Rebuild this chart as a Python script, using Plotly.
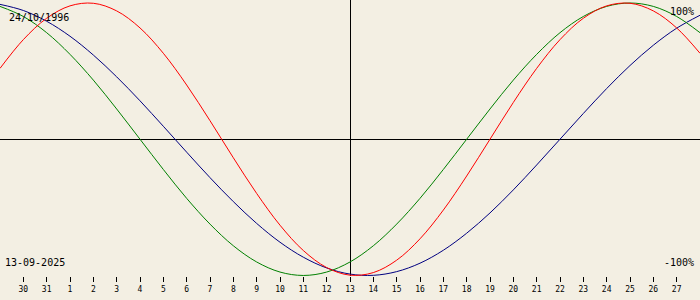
import plotly.graph_objects as go

# Day offsets relative to 13-09-2025 (centre line)
days = list(range(-15, 16))
tick_days = list(range(-14, 15))
tick_labels = ["30", "31", "1", "2", "3", "4", "5", "6", "7", "8", "9", "10", "11", "12",
               "13", "14", "15", "16", "17", "18", "19", "20", "21", "22", "23", "24",
               "25", "26", "27"]

# Biorhythm values (%) read per day
physical = [52.0, 73.1, 88.8, 97.9, 99.8, 94.2, 81.7, 63.1, 39.8, 13.6, -13.6, -39.8,
            -63.1, -81.7, -94.2, -99.8, -97.9, -88.8, -73.1, -52.0, -27.0, 0.0, 27.0,
            52.0, 73.1, 88.8, 97.9, 99.8, 94.2, 81.7, 63.1]
emotional = [97.5, 90.1, 78.2, 62.3, 43.4, 22.2, 0.0, -22.2, -43.4, -62.3, -78.2, -90.1,
             -97.5, -100.0, -97.5, -90.1, -78.2, -62.3, -43.4, -22.2, 0.0, 22.2, 43.4,
             62.3, 78.2, 90.1, 97.5, 100.0, 97.5, 90.1, 78.2]
intellectual = [99.0, 94.5, 86.6, 75.6, 61.8, 45.8, 28.2, 9.5, -9.5, -28.2, -45.8, -61.8,
                -75.6, -86.6, -94.5, -99.0, -99.9, -97.2, -91.0, -81.5, -69.0, -54.1,
                -37.2, -18.9, 0.0, 18.9, 37.2, 54.1, 69.0, 81.5, 91.0]

birth_label = "24/10/1996"
date_label = "13-09-2025"
top_label = "100%"
bottom_label = "-100%"

W, H = 700, 300
B = 24
PH = H - B

fig = go.Figure()
for vals, col in [(intellectual, "#000080"), (emotional, "#008000"), (physical, "#FF0000")]:
    fig.add_trace(go.Scatter(x=days, y=vals, mode="lines",
                             line=dict(color=col, width=1, shape="spline"),
                             hoverinfo="skip", showlegend=False))

mono = "DejaVu Sans Mono"

def ann(text, px, py, xanchor):
    fig.add_annotation(text=text, xref="paper", yref="paper",
                       x=px / W, y=1 - py / PH, xanchor=xanchor, yanchor="middle",
                       showarrow=False, font=dict(family=mono, size=10, color="black"),
                       borderpad=0)

ann(birth_label, 8, 17, "left")
ann(date_label, 4, 262, "left")
ann(top_label, 695, 12, "right")
ann(bottom_label, 695, 262, "right")

fig.update_layout(
    width=W, height=H,
    margin=dict(l=0, r=0, t=0, b=B),
    paper_bgcolor="#F3EFE3", plot_bgcolor="#F3EFE3",
    showlegend=False,
    xaxis=dict(range=[-15, 15], tickvals=tick_days, ticktext=tick_labels,
               ticks="outside", ticklen=5, tickwidth=1, tickcolor="black",
               tickfont=dict(family=mono, size=8, color="black"),
               showgrid=False, showline=False,
               zeroline=True, zerolinecolor="black", zerolinewidth=1, fixedrange=True),
    yaxis=dict(range=[-100.4, 102.2], showticklabels=False, ticks="",
               showgrid=False, showline=False,
               zeroline=True, zerolinecolor="black", zerolinewidth=1, fixedrange=True),
)

fig.write_html("out.html", config={"displayModeBar": False})
